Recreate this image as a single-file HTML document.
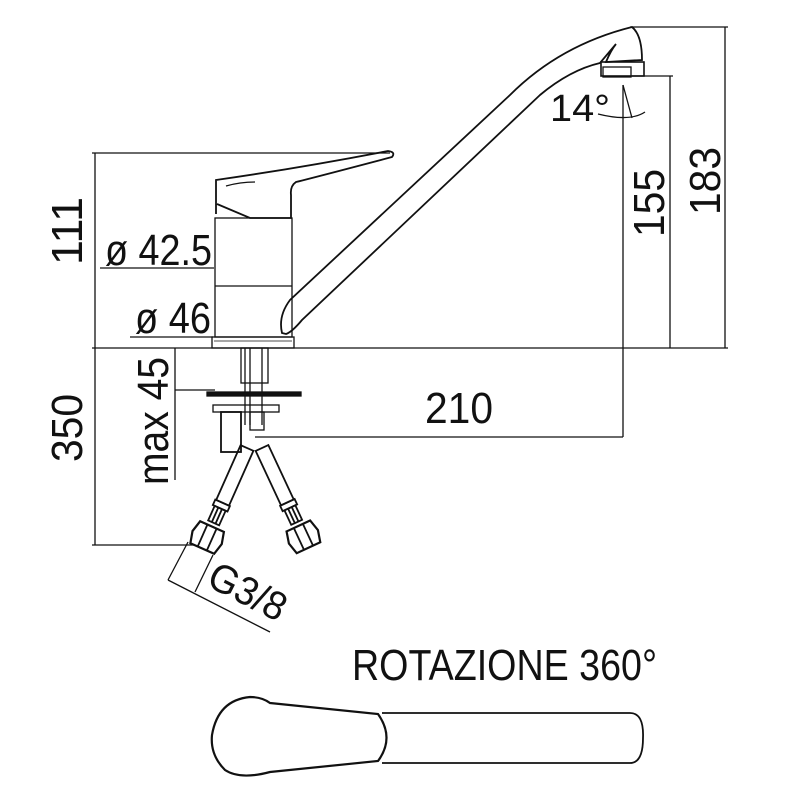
<!DOCTYPE html>
<html><head><meta charset="utf-8"><style>
html,body{margin:0;padding:0;background:#fff;}
svg{display:block;}
text{font-family:"Liberation Sans Narrow","Liberation Sans",sans-serif;fill:#111;}
</style></head><body>
<svg width="800" height="800" viewBox="0 0 800 800" xmlns="http://www.w3.org/2000/svg">
<g fill="none" stroke="#111" stroke-width="1.3">
<line x1="92" y1="348" x2="728" y2="348"/>
<line x1="92" y1="153" x2="390" y2="153"/>
<line x1="95" y1="153" x2="95" y2="545"/>
<line x1="92" y1="545" x2="195" y2="545"/>
<line x1="100" y1="268" x2="214" y2="268"/>
<line x1="130" y1="337" x2="213" y2="337"/>
<line x1="630" y1="27" x2="728" y2="27"/>
<line x1="725" y1="27" x2="725" y2="348"/>
<line x1="632" y1="76" x2="673" y2="76"/>
<line x1="670" y1="76" x2="670" y2="348"/>
<line x1="623" y1="85" x2="623" y2="437"/>
<line x1="255" y1="437" x2="623" y2="437"/>
<line x1="175" y1="348" x2="175" y2="480"/>
<line x1="175" y1="390" x2="215" y2="390"/>
<path d="M598 114 Q630 122 645 112"/>
<line x1="623" y1="85" x2="632" y2="118"/>
<line x1="168" y1="580" x2="270" y2="632"/>
<line x1="188" y1="542" x2="168" y2="580"/>
<line x1="213" y1="555" x2="195" y2="592"/>
<rect x="215" y="218" width="77" height="119"/>
<line x1="215" y1="286" x2="292" y2="286"/>
<rect x="212" y="337" width="82" height="11"/>
<line x1="214" y1="341" x2="292" y2="341" stroke-width="0.8"/>
<path d="M216 214 L216 180 Q300 168 388 151 Q396 152 392 157 Q320 176 296 182 Q290 186 291 195 L291 218 L250 218 L217 204" stroke-width="1.8"/>
<path d="M226 186 Q240 182 255 182"/>
<path d="M282 333 Q278 316 290 300 L510 95 Q560 45 632 27 Q642 35 642 60 L606 62 Q611 50 616 44 L600 63 Q570 70 540 95 L302 320 Q292 332 286 334 Z" stroke-width="1.8"/>
<rect x="601" y="62" width="43" height="14" stroke-width="1.6"/>
<rect x="603" y="67" width="28" height="10"/>
<rect x="241" y="348" width="27" height="35"/>
<line x1="245" y1="348" x2="245" y2="425"/>
<line x1="250" y1="348" x2="250" y2="425"/>
<line x1="262" y1="348" x2="262" y2="425"/>
<rect x="207" y="392" width="94" height="4" fill="#111"/>
<rect x="213" y="405" width="66" height="7"/>
<rect x="221" y="412" width="20" height="40" stroke-width="1.8"/>
<rect x="250" y="412" width="14" height="18"/>
<g transform="translate(247,448) rotate(24)" stroke-width="1.8">
<rect x="-7" y="0" width="14" height="60"/>
<rect x="-8" y="60" width="16" height="6"/>
<rect x="-6" y="66" width="12" height="16"/>
<line x1="-2" y1="66" x2="-2" y2="82"/><line x1="2" y1="66" x2="2" y2="82"/>
<path d="M-13 86 L13 86 L16 98 L13 110 L-13 110 L-16 98 Z" stroke-width="2.2"/>
<line x1="-5" y1="86" x2="-5" y2="110"/><line x1="5" y1="86" x2="5" y2="110"/>
</g>
<g transform="translate(262,448) rotate(-25)" stroke-width="1.8">
<rect x="-7" y="0" width="14" height="60"/>
<rect x="-8" y="60" width="16" height="6"/>
<rect x="-6" y="66" width="12" height="16"/>
<line x1="-2" y1="66" x2="-2" y2="82"/><line x1="2" y1="66" x2="2" y2="82"/>
<path d="M-13 86 L13 86 L16 98 L13 110 L-13 110 L-16 98 Z" stroke-width="2.2"/>
<line x1="-5" y1="86" x2="-5" y2="110"/><line x1="5" y1="86" x2="5" y2="110"/>
</g>
<path d="M382 713 L630 713 Q644 713 643 738 Q643 763 630 763 L382 763" stroke-width="1.8"/>
<path d="M270 703 L378 714 Q395 738 378 761 L270 772 Q240 780 225 770 Q210 755 212 735 Q218 700 250 697 Q262 697 270 703 Z" stroke-width="2.2"/>
</g>
<g font-size="44">
<text x="105" y="265" textLength="107" lengthAdjust="spacingAndGlyphs">ø 42.5</text>
<text x="135" y="333" textLength="76" lengthAdjust="spacingAndGlyphs">ø 46</text>
<text x="425" y="423" textLength="68" lengthAdjust="spacingAndGlyphs">210</text>
<text x="550" y="121" font-size="38" textLength="60" lengthAdjust="spacingAndGlyphs">14°</text>
<text x="352" y="680" textLength="305" lengthAdjust="spacingAndGlyphs">ROTAZIONE 360°</text>
<text transform="translate(82,265) rotate(-90)" textLength="68" lengthAdjust="spacingAndGlyphs">111</text>
<text transform="translate(82,462) rotate(-90)" textLength="68" lengthAdjust="spacingAndGlyphs">350</text>
<text transform="translate(168,485) rotate(-90)" textLength="128" lengthAdjust="spacingAndGlyphs">max 45</text>
<text transform="translate(664,237) rotate(-90)" textLength="68" lengthAdjust="spacingAndGlyphs">155</text>
<text transform="translate(720,215) rotate(-90)" textLength="68" lengthAdjust="spacingAndGlyphs">183</text>
<text transform="translate(205,585) rotate(27)" font-size="40" textLength="82" lengthAdjust="spacingAndGlyphs">G3/8</text>
</g>
</svg>
</body></html>
